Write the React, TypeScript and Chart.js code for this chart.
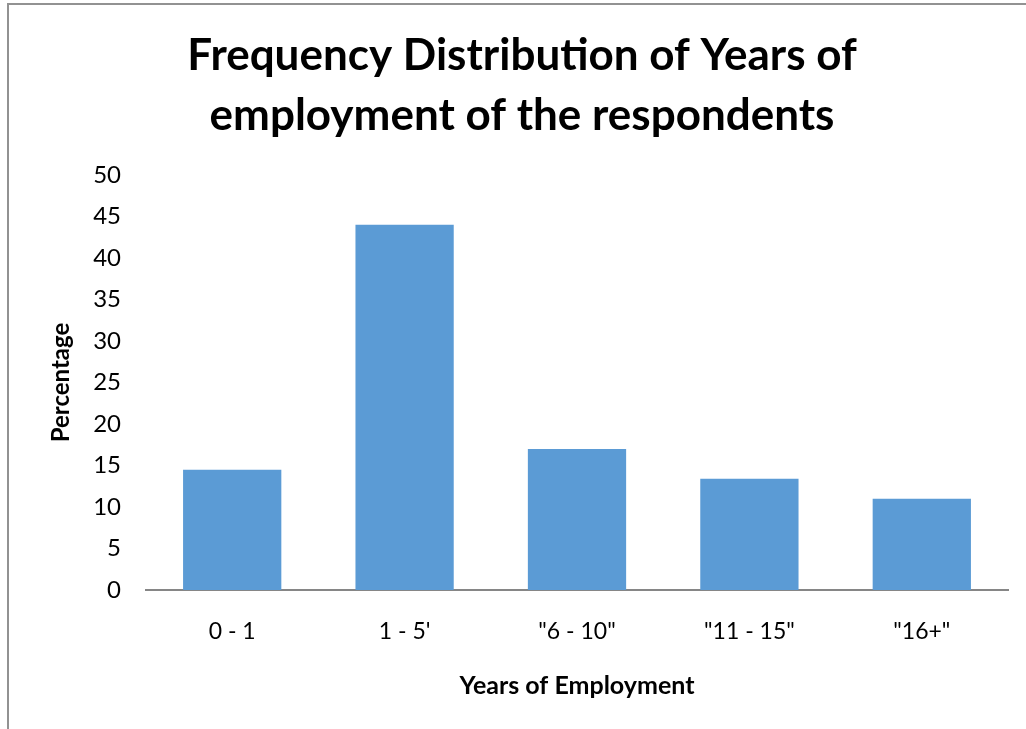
import React, { useEffect, useRef } from "react";
import { Chart, registerables } from "chart.js";

Chart.register(...registerables);

const categories = ["0 - 1", "1 - 5'", "\"6 - 10\"", "\"11 - 15\"", "\"16+\""];
const percentages = [14.5, 44, 17, 13.4, 11];
const yTicks = [0, 5, 10, 15, 20, 25, 30, 35, 40, 45, 50];
const titleLines = ["Frequency Distribution of Years of", "employment of the respondents"];
const xTitle = "Years of Employment";
const yTitle = "Percentage";

const FONT = "Lato, 'Open Sans', sans-serif";

const framePlugin = {
  id: "frame",
  beforeDraw(chart: any) {
    const ctx = chart.ctx;
    ctx.save();
    ctx.fillStyle = "#ffffff";
    ctx.fillRect(0, 0, chart.width, chart.height);
    ctx.strokeStyle = "#929292";
    ctx.lineWidth = 2;
    ctx.strokeRect(8, 4, chart.width + 50, chart.height + 50);
    ctx.restore();
  },
};

export default function App() {
  const ref = useRef<HTMLCanvasElement | null>(null);
  useEffect(() => {
    if (!ref.current) return;
    const chart = new Chart(ref.current, {
      type: "bar",
      data: {
        labels: categories,
        datasets: [
          {
            data: percentages,
            backgroundColor: "#5b9bd5",
            borderWidth: 0,
            barPercentage: 0.57,
            categoryPercentage: 1,
          },
        ],
      },
      plugins: [framePlugin],
      options: {
        responsive: false,
        animation: false,
        devicePixelRatio: 1,
        layout: { padding: { left: 36, right: 18, top: 0, bottom: 0 } },
        plugins: {
          legend: { display: false },
          tooltip: { enabled: false },
          title: {
            display: true,
            text: titleLines,
            color: "#000000",
            font: { family: FONT, size: 44, weight: "bold", lineHeight: 60 / 44 },
            padding: { top: 26, bottom: 29 },
          },
        },
        scales: {
          x: {
            grid: { display: false },
            border: { display: true, color: "#868686", width: 2 },
            ticks: {
              color: "#000000",
              font: { family: FONT, size: 23 },
              padding: 20,
              maxRotation: 0,
            },
            title: {
              display: true,
              text: xTitle,
              color: "#000000",
              font: { family: FONT, size: 25, weight: "bold", lineHeight: 1.2 },
              padding: { top: 0, bottom: 28 },
            },
            afterFit: (s: any) => {
              s.height = 139;
            },
          },
          y: {
            min: 0,
            max: 50,
            grid: { display: false },
            border: { display: false },
            afterBuildTicks: (s: any) => {
              s.ticks = yTicks.map((v) => ({ value: v }));
            },
            ticks: {
              color: "#000000",
              font: { family: FONT, size: 24 },
              padding: 17,
            },
            title: {
              display: true,
              text: yTitle,
              color: "#000000",
              font: { family: FONT, size: 24, weight: "bold", lineHeight: 1.2 },
              padding: { top: 11, bottom: 0 },
            },
            afterFit: (s: any) => {
              s.width = 110;
            },
          },
        },
      },
    });
    return () => chart.destroy();
  }, []);
  return (
    <div style={{ position: "fixed", left: 0, top: 0, width: 1026, height: 729, background: "#fff" }}>
      <canvas ref={ref} width={1026} height={729} style={{ display: "block", width: 1026, height: 729 }} />
    </div>
  );
}
